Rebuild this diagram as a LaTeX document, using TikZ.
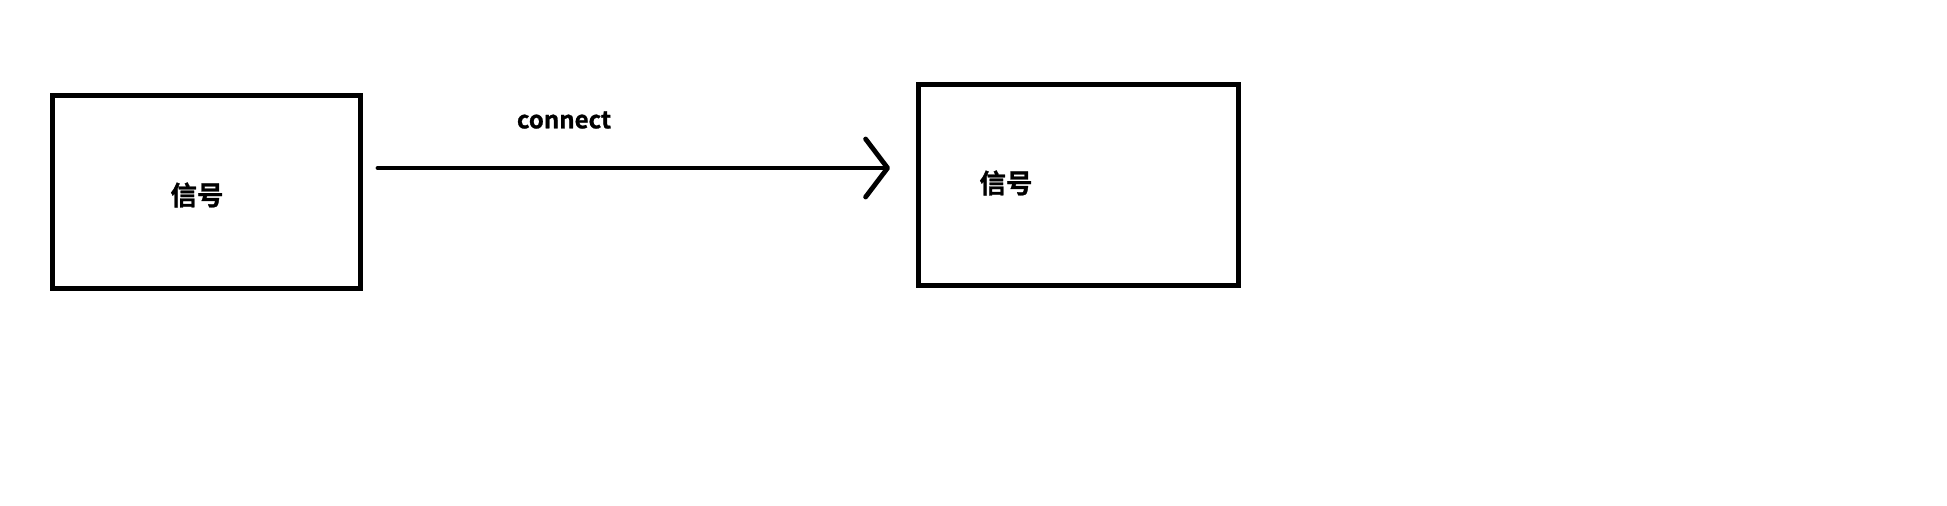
\documentclass[tikz,border=0pt]{standalone}
\usepackage{fontspec}
\newfontfamily\cjkbold[FakeBold=1]{Noto Sans CJK SC Bold}
\usetikzlibrary{arrows.meta}
\begin{document}
\begin{tikzpicture}[x=1pt,y=-1pt,
  box/.style={draw=black,line width=5pt,minimum width=#1,inner sep=0pt},
  lbl/.style={font=\cjkbold\fontsize{26.5}{30}\selectfont,inner sep=0pt},
  conn/.style={line width=4.8pt,line cap=round,-{Straight Barb[length=22pt,width=58pt,line cap=round,line join=round]}}]
\useasboundingbox[fill=white] (0,0) rectangle (1947,506);
\node[box=308pt,minimum height=193pt] (a) at (206.5,192) {};
\node[box=320pt,minimum height=201pt] (b) at (1078.5,185) {};
\node[lbl] (ta) at (197,195) {信号};
\node[lbl] (tb) at (1006,183) {信号};
\coordinate (s) at (378,168);
\coordinate (e) at (890,168);
\draw[conn] (s) -- (e);
\node[font=\cjkbold\fontsize{24}{27}\selectfont,inner sep=0pt] (c) at (564,120) {connect};
\end{tikzpicture}
\end{document}
